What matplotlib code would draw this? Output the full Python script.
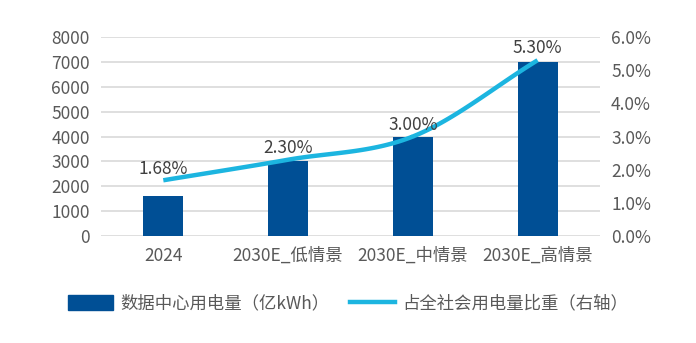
import numpy as np
import matplotlib.pyplot as plt
from matplotlib.lines import Line2D
from matplotlib.patches import Patch

plt.rcParams['font.family'] = ['Noto Sans CJK SC', 'DejaVu Sans']

categories = ['2024', '2030E_低情景', '2030E_中情景', '2030E_高情景']
power = [1600, 3000, 4000, 7000]          # 亿kWh
share = [1.68, 2.30, 3.00, 5.30]          # %
share_labels = ['1.68%', '2.30%', '3.00%', '5.30%']

bar_color = '#004F95'
line_color = '#1CB5E0'
text_color = '#595959'


def smooth(xs, ys, n=40):
    # Catmull-Rom curve through the points, like a smoothed office chart line
    xs = np.asarray(xs, float)
    ys = np.asarray(ys, float)
    px = np.concatenate([[2 * xs[0] - xs[1]], xs, [2 * xs[-1] - xs[-2]]])
    py = np.concatenate([[2 * ys[0] - ys[1]], ys, [2 * ys[-1] - ys[-2]]])
    out_x, out_y = [], []
    t = np.linspace(0, 1, n)
    for i in range(1, len(px) - 2):
        for p, out in ((px, out_x), (py, out_y)):
            p0, p1, p2, p3 = p[i - 1], p[i], p[i + 1], p[i + 2]
            out.extend(0.5 * (2 * p1 + (-p0 + p2) * t
                              + (2 * p0 - 5 * p1 + 4 * p2 - p3) * t ** 2
                              + (-p0 + 3 * p1 - 3 * p2 + p3) * t ** 3))
    return np.array(out_x), np.array(out_y)


fig = plt.figure(figsize=(6.96, 3.43), dpi=100)
ax = fig.add_axes([0.145, 0.312, 0.717, 0.58])
x = np.arange(len(categories))

ax.bar(x, power, width=0.32, color=bar_color, zorder=2)
ax.set_ylim(0, 8000)
ax.set_yticks(range(0, 8001, 1000))
ax.set_xlim(-0.5, len(categories) - 0.5)
ax.set_xticks(x)
ax.set_xticklabels(categories)
ax.grid(axis='y', color='#D9D9D9', linewidth=1.2, zorder=0)
ax.tick_params(axis='both', length=0, labelsize=12.5, colors=text_color, pad=8)
for s in ax.spines.values():
    s.set_visible(False)

ax2 = ax.twinx()
sx, sy = smooth(x, share)
ax2.plot(sx, sy, color=line_color, linewidth=3.2, solid_capstyle='butt', zorder=3)
ax2.set_ylim(0, 6)
ax2.set_yticks(np.arange(0, 6.01, 1))
ax2.set_yticklabels([f'{v:.1f}%' for v in np.arange(0, 6.01, 1)])
ax2.tick_params(axis='y', length=0, labelsize=12.5, colors=text_color, pad=8)
for s in ax2.spines.values():
    s.set_visible(False)

for xi, v, lab in zip(x, share, share_labels):
    ax2.annotate(lab, (xi, v), xytext=(0, 2), textcoords='offset points',
                 ha='center', va='bottom', fontsize=12.5, color='#404040')

handles = [Patch(facecolor=bar_color, edgecolor=bar_color),
           Line2D([0], [0], color=line_color, linewidth=3.2)]
fig.legend(handles, ['数据中心用电量（亿kWh）', '占全社会用电量比重（右轴）'],
           loc='center', bbox_to_anchor=(0.5, 0.115), ncol=2, frameon=False,
           fontsize=12.5, labelcolor=text_color, handlelength=2.6,
           handleheight=0.9, columnspacing=1.2, handletextpad=0.4)

fig.savefig('out.png', dpi=100)
